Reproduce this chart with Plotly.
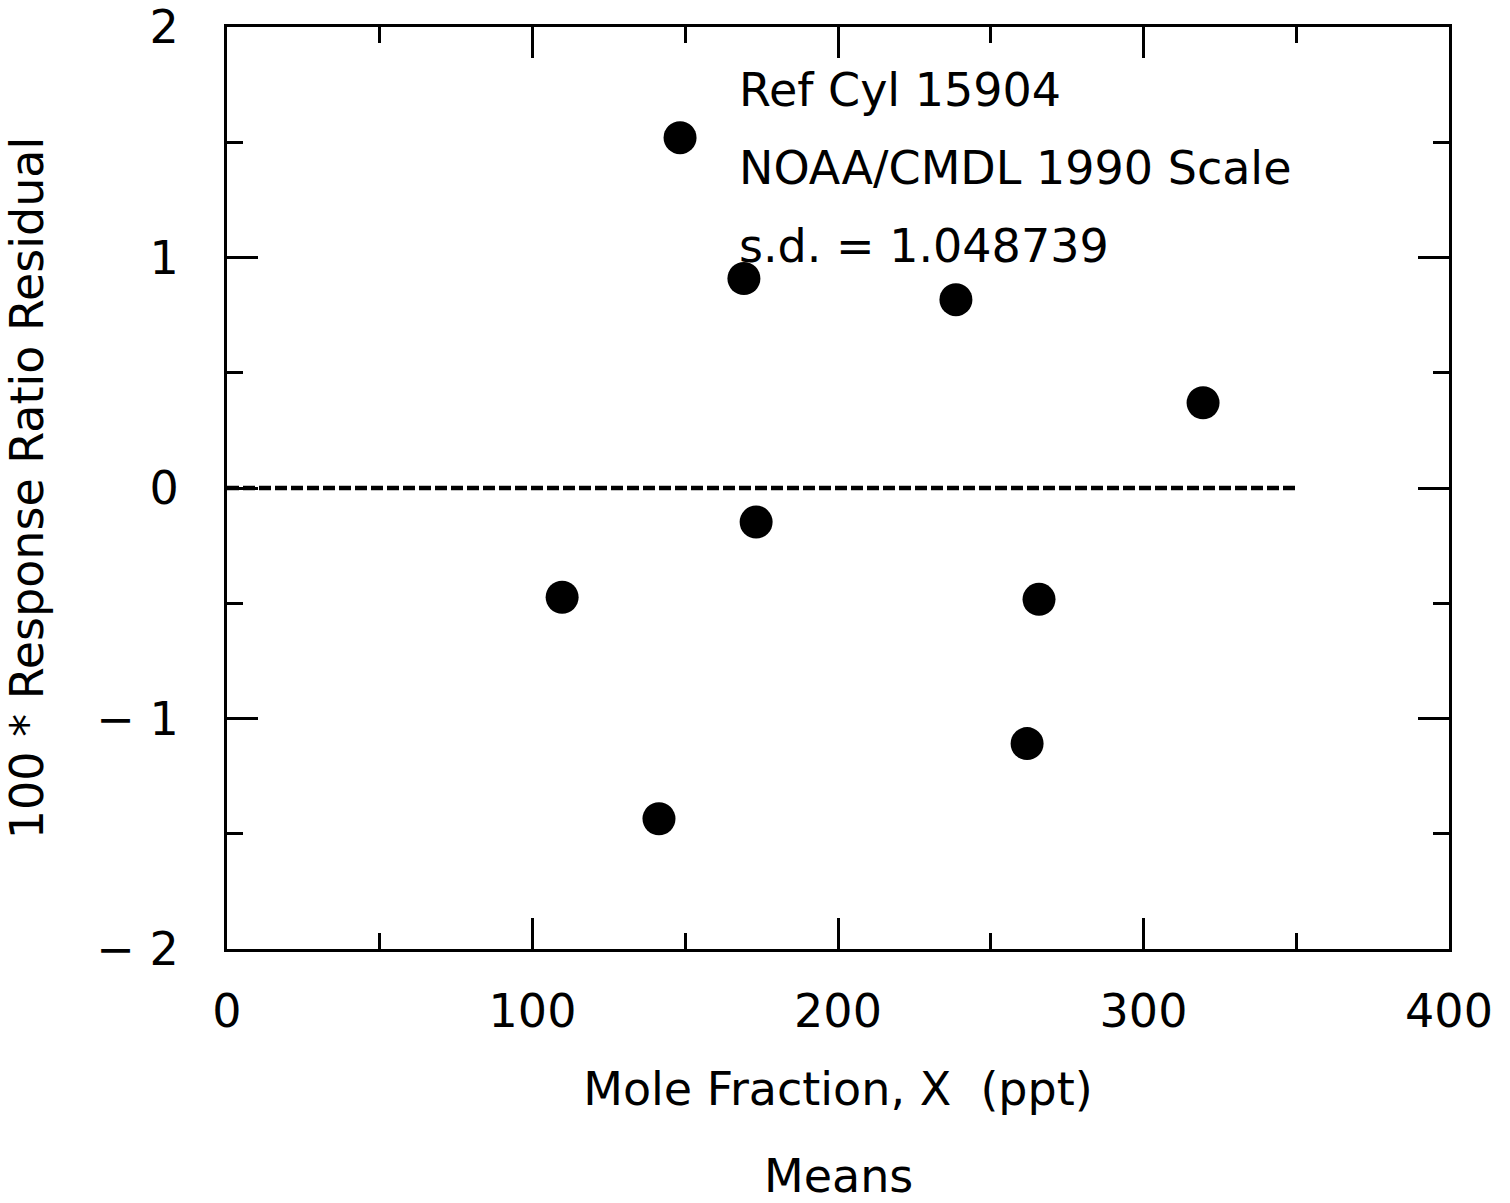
import plotly.graph_objects as go

# Data
mole_fraction = [109.7, 141.4, 148.3, 169.2, 173.2, 238.6, 261.9, 265.8, 319.5]
residual = [-0.474, -1.435, 1.52, 0.909, -0.148, 0.817, -1.109, -0.483, 0.37]
zero_line_x = [0, 350]
zero_line_y = [0, 0]
x_ticks = [0, 100, 200, 300, 400]
y_ticks = [-2, -1, 0, 1, 2]
y_tick_labels = ["\u2212 2", "\u2212 1", "0", "1", "2"]
notes = ["Ref Cyl 15904", "NOAA/CMDL 1990 Scale", "s.d. = 1.048739"]
note_y = [1.725, 1.39, 1.05]

FONT = "DejaVu Sans"
FS = 46
fig = go.Figure()
fig.add_trace(go.Scatter(x=zero_line_x, y=zero_line_y, mode="lines",
                         line=dict(color="black", width=4.5, dash="12px,4px"),
                         showlegend=False, hoverinfo="skip"))
fig.add_trace(go.Scatter(x=mole_fraction, y=residual, mode="markers",
                         marker=dict(color="black", size=33),
                         showlegend=False))

for t, yy in zip(notes, note_y):
    fig.add_annotation(x=167, y=yy, xref="x", yref="y", text=t, showarrow=False,
                       xanchor="left", yanchor="middle",
                       font=dict(family=FONT, size=FS, color="black"))

plot_h = 1203 - 27 - 254
fig.add_annotation(x=0.5, y=-(1176 - 949) / plot_h, xref="paper", yref="paper",
                   text="Means", showarrow=False, yanchor="middle",
                   font=dict(family=FONT, size=FS, color="black"))

axis_common = dict(showgrid=False, zeroline=False, showline=True, linecolor="black",
                   linewidth=3, mirror="ticks", ticks="inside", ticklen=31,
                   tickwidth=2.5, tickcolor="black",
                   tickfont=dict(family=FONT, size=FS, color="black"))

fig.update_xaxes(range=[0, 400], tickvals=x_ticks, ticklabelstandoff=20,
                 minor=dict(dtick=50, ticks="inside", ticklen=16, tickwidth=2.5,
                            tickcolor="black", showgrid=False),
                 title=dict(text="Mole Fraction, X \u00a0(ppt)", standoff=36,
                            font=dict(family=FONT, size=FS, color="black")),
                 **axis_common)
fig.update_yaxes(range=[-2, 2], tickvals=y_ticks, ticktext=y_tick_labels,
                 ticklabelstandoff=36,
                 minor=dict(dtick=0.5, ticks="inside", ticklen=16, tickwidth=2.5,
                            tickcolor="black", showgrid=False),
                 title=dict(text="100 * Response Ratio Residual", standoff=52,
                            font=dict(family=FONT, size=FS, color="black")),
                 **axis_common)

fig.update_layout(width=1510, height=1203, plot_bgcolor="white", paper_bgcolor="white",
                  margin=dict(l=227, r=61, t=27, b=254, autoexpand=False))

fig.write_html("out.html")
